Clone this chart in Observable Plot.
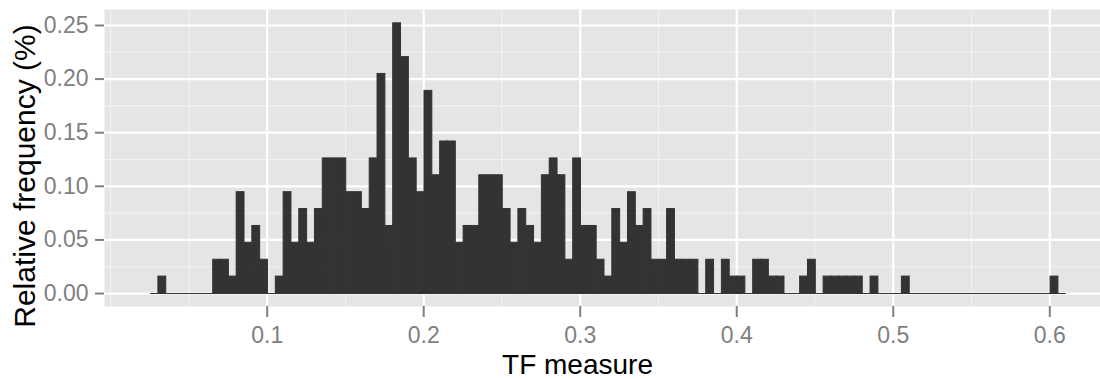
<!DOCTYPE html>
<html>
<head>
<meta charset="utf-8">
<script src="https://cdn.jsdelivr.net/npm/d3@7"></script>
<script src="https://cdn.jsdelivr.net/npm/@observablehq/plot@0.6"></script>
<style>
  html, body { margin: 0; padding: 0; background: #ffffff; }
  #chart { width: 1100px; height: 379px; overflow: hidden; }
</style>
</head>
<body>
<div id="chart"></div>
<script>
// ---- data ----
const binStart = 0.0255;   // left edge of the first bin
const binWidth = 0.005;    // width of every bin
const relFreq = [
  0, 0.0158, 0, 0, 0, 0, 0, 0, 0.0315, 0.0315,
  0.0158, 0.0945, 0.0473, 0.063, 0.0315, 0, 0.0158, 0.0945, 0.0473, 0.0788,
  0.0473, 0.0788, 0.126, 0.126, 0.126, 0.0945, 0.0945, 0.0788, 0.126, 0.2048,
  0.063, 0.252, 0.2205, 0.126, 0.0945, 0.189, 0.1103, 0.1418, 0.1418, 0.0473,
  0.063, 0.063, 0.1103, 0.1103, 0.1103, 0.0788, 0.0473, 0.0788, 0.063, 0.0473,
  0.1103, 0.126, 0.1103, 0.0315, 0.126, 0.063, 0.063, 0.0315, 0.0158, 0.0788,
  0.0473, 0.0945, 0.063, 0.0788, 0.0315, 0.0315, 0.0788, 0.0315, 0.0315, 0.0315,
  0, 0.0315, 0, 0.0315, 0.0158, 0.0158, 0, 0.0315, 0.0315, 0.0158,
  0.0158, 0, 0, 0.0158, 0.0315, 0, 0.0158, 0.0158, 0.0158, 0.0158,
  0.0158, 0, 0.0158, 0, 0, 0, 0.0158, 0, 0, 0,
  0, 0, 0, 0, 0, 0, 0, 0, 0, 0,
  0, 0, 0, 0, 0, 0.0158, 0
];
const xTicks = [0.1, 0.2, 0.3, 0.4, 0.5, 0.6];
const xTickLabels = ["0.1", "0.2", "0.3", "0.4", "0.5", "0.6"];
const yTicks = [0, 0.05, 0.10, 0.15, 0.20, 0.25];
const yTickLabels = ["0.00", "0.05", "0.10", "0.15", "0.20", "0.25"];
const xMinor = [0, 0.05, 0.15, 0.25, 0.35, 0.45, 0.55];
const yMinor = [0.025, 0.075, 0.125, 0.175, 0.225];
const xTitle = "TF measure";
const yTitle = "Relative frequency (%)";

// ---- table built from the arrays ----
const bins = relFreq.map((v, i) => ({
  x1: binStart + i * binWidth,
  x2: binStart + (i + 1) * binWidth,
  y: v
}));
const span = [{x1: bins[0].x1, x2: bins[bins.length - 1].x2}];

const font = "'Liberation Sans', Arial, Helvetica, sans-serif";
const grey = "#7F7F7F";

const chart = Plot.plot({
  width: 1100,
  height: 379,
  marginLeft: 104,
  marginRight: 0,
  marginTop: 9,
  marginBottom: 73,
  style: {background: "#ffffff", fontFamily: font},
  x: {domain: [-0.00395, 0.6324]},
  y: {domain: [-0.0121, 0.2649]},
  marks: [
    Plot.frame({fill: "#E5E5E5", stroke: null}),
    Plot.ruleX(xMinor, {stroke: "#F2F2F2", strokeWidth: 1.1}),
    Plot.ruleY(yMinor, {stroke: "#F2F2F2", strokeWidth: 1.1}),
    Plot.ruleX(xTicks, {stroke: "#ffffff", strokeWidth: 2.2}),
    Plot.ruleY(yTicks, {stroke: "#ffffff", strokeWidth: 2.2}),
    Plot.ruleY(span, {x1: "x1", x2: "x2", y: () => 0, stroke: "#333333", strokeWidth: 1}),
    Plot.rectY(bins, {x1: "x1", x2: "x2", y1: 0, y2: "y", fill: "#333333", stroke: "#333333", strokeWidth: 1}),
    Plot.axisX({
      ticks: xTicks,
      tickFormat: d => xTickLabels[xTicks.indexOf(d)],
      tickSize: 11,
      tickPadding: 9,
      stroke: grey,
      fill: grey,
      strokeWidth: 2,
      fontSize: 23,
      label: null
    }),
    Plot.axisY({
      ticks: yTicks,
      tickFormat: d => yTickLabels[yTicks.indexOf(d)],
      tickSize: 9,
      tickPadding: 7,
      stroke: grey,
      fill: grey,
      strokeWidth: 2,
      fontSize: 23,
      label: null
    }),
    Plot.text([xTitle], {text: d => d, frameAnchor: "bottom", textAnchor: "middle", dx: -25, dy: 67, lineAnchor: "bottom", fontSize: 28, fill: "#000000"}),
    Plot.text([yTitle], {text: d => d, frameAnchor: "left", textAnchor: "middle", rotate: -90, dx: -70, dy: 18, lineAnchor: "bottom", fontSize: 30, fill: "#000000"})
  ]
});
document.getElementById("chart").appendChild(chart);
</script>
</body>
</html>
